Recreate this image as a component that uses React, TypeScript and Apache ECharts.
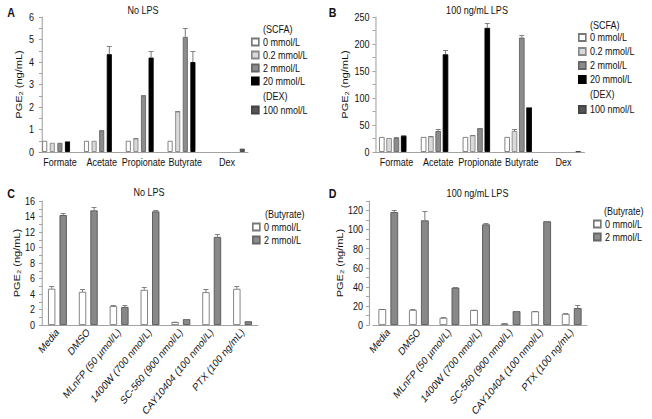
import { useEffect, useRef } from 'react';
import * as echarts from 'echarts';

const FONT = "'Liberation Sans', Arial, sans-serif";
// The reference figure is horizontally condensed; the chart is drawn wider and condensed with CSS.
const S = 0.82;
const X = (v: number) => v / S;

// ---- Panels A & B: SCFA ----
const scfaCategories = ['Formate', 'Acetate', 'Propionate', 'Butyrate', 'Dex'];
const scfaNames = ['0 mmol/L', '0.2 mmol/L', '2 mmol/L', '20 mmol/L'];
const dexName = '100 nmol/L';

// A: No LPS
const noLps0 = [0.5, 0.5, 0.5, 0.5, null];
const noLps02 = [0.41, 0.5, 0.6, 1.8, null];
const noLps2 = [0.41, 0.95, 2.5, 5.12, null];
const noLps20 = [0.47, 4.35, 4.2, 4.0, null];
const noLpsDex = [null, null, null, null, 0.15];
const noLps0Err = [0, 0, 0, 0, null];
const noLps02Err = [0, 0, 0.02, 0.03, null];
const noLps2Err = [0, 0.03, 0.03, 0.4, null];
const noLps20Err = [0.02, 0.38, 0.3, 0.5, null];
const noLpsDexErr = [null, null, null, null, 0];

// B: 100 ng/mL LPS
const lps0 = [28, 28, 28, 28, null];
const lps02 = [26, 29, 31, 39, null];
const lps2 = [26, 39, 44, 212, null];
const lps20 = [30, 181, 230, 83, null];
const lpsDex = [null, null, null, null, 1.5];
const lps0Err = [0, 0, 0, 0, null];
const lps02Err = [0, 1, 1, 4, null];
const lps2Err = [1, 3, 1, 4, null];
const lps20Err = [1, 7, 8, 1, null];
const lpsDexErr = [null, null, null, null, 0];

// ---- Panels C & D: Butyrate with inhibitors ----
const inhibitorCategories = [
  'Media',
  'DMSO',
  'MLnFP (50 µmol/L)',
  '1400W (700 nmol/L)',
  'SC-560 (900 nmol/L)',
  'CAY10404 (100 nmol/L)',
  'PTX (100 ng/mL)',
];
const butyrateNames = ['0 mmol/L', '2 mmol/L'];

// C: No LPS
const cBut0 = [4.7, 4.3, 2.46, 4.55, 0.43, 4.26, 4.69];
const cBut2 = [14.2, 14.8, 2.35, 14.67, 0.78, 11.38, 0.5];
const cBut0Err = [0.3, 0.35, 0.08, 0.35, 0.03, 0.38, 0.33];
const cBut2Err = [0.3, 0.45, 0.3, 0.2, 0.05, 0.35, 0.05];

// D: 100 ng/mL LPS
const dBut0 = [16.9, 16, 7.7, 16, 1.6, 14.5, 11.8];
const dBut2 = [118.4, 109.8, 39.3, 105.6, 14.7, 108.8, 17.9];
const dBut0Err = [0.5, 0.8, 0.5, 0.3, 0.2, 0.6, 0.7];
const dBut2Err = [2, 9.6, 0.6, 1, 0.5, 0.3, 3];

const yName = 'PGE₂ (ng/mL)';

function barSeries(name: string, data: (number | null)[], gi: number, color: string, border: string, bw: number, gap: string) {
  return {
    type: 'bar',
    name,
    xAxisIndex: gi,
    yAxisIndex: gi,
    data: data.map((v) => (v == null ? '-' : v)),
    barWidth: bw,
    barGap: gap,
    itemStyle: { color, borderColor: border, borderWidth: 1 },
    silent: true,
  };
}

function errSeries(values: (number | null)[], errs: (number | null)[], gi: number, slot: number, nSlots: number, bw: number, gapPx: number) {
  const data: number[][] = [];
  values.forEach((v, i) => {
    const e = errs[i];
    if (v != null && e != null && e > 0) data.push([i, v, v + e]);
  });
  return {
    type: 'custom',
    xAxisIndex: gi,
    yAxisIndex: gi,
    silent: true,
    z: 5,
    data,
    renderItem: (_p: any, api: any) => {
      const base = api.coord([api.value(0), api.value(1)]);
      const top = api.coord([api.value(0), api.value(2)]);
      const off = (slot - (nSlots - 1) / 2) * (bw + gapPx);
      const x = base[0] + off;
      const yt = Math.round(top[1]) + 0.5;
      const half = X(2.5);
      return {
        type: 'group',
        children: [
          { type: 'line', shape: { x1: x, y1: base[1], x2: x, y2: yt }, style: { stroke: '#777', lineWidth: 1.2 } },
          { type: 'line', shape: { x1: x - half, y1: yt, x2: x + half, y2: yt }, style: { stroke: '#777', lineWidth: 1 } },
        ],
      };
    },
  };
}

function xAxis(gi: number, data: string[], rotate: number) {
  return {
    type: 'category',
    gridIndex: gi,
    data,
    axisLine: { lineStyle: { color: '#999' } },
    axisTick: { show: false },
    axisLabel: { fontSize: 11, color: '#111', fontFamily: FONT, margin: 5, interval: 0, rotate },
  };
}

function yAxis(gi: number, max: number, interval: number, labelEvery: number, margin: number, nameGap: number, offset: number) {
  return {
    type: 'value',
    gridIndex: gi,
    min: 0,
    max,
    interval,
    offset: X(offset),
    axisLine: { show: true, lineStyle: { color: '#999', width: 1.2 } },
    axisTick: { show: true, length: X(3), lineStyle: { color: '#999', width: 1 } },
    splitLine: { show: false },
    axisLabel: {
      fontSize: 11,
      color: '#111',
      fontFamily: FONT,
      margin: X(margin),
      formatter: (v: number) => (Math.abs(v / labelEvery - Math.round(v / labelEvery)) < 1e-6 ? String(v) : ''),
    },
    name: yName,
    nameLocation: 'middle',
    nameGap: X(nameGap),
    nameTextStyle: { fontSize: 11, color: '#111', fontFamily: FONT },
  };
}

const legendCommon = {
  orient: 'vertical',
  padding: 0,
  itemWidth: X(7),
  itemHeight: 7,
  icon: 'rect',
  selectedMode: false,
  textStyle: { fontSize: 11, lineHeight: 11, color: '#111', fontFamily: FONT },
};

function txt(text: string, x: number, y: number, align: string, extra: any = {}) {
  return {
    type: 'text',
    x: X(x),
    y,
    silent: true,
    style: { text, fontSize: 11, fontFamily: FONT, fill: '#111', align, verticalAlign: 'middle', ...extra },
  };
}

function buildOption() {
  const abBW = [X(5), X(5.5)];
  const abGapPx = [X(2.6), X(1.8)];
  const scfaColors = [
    ['#ffffff', '#777777'],
    ['#d9d9d9', '#888888'],
    ['#8c8c8c', '#666666'],
    ['#000000', '#000000'],
  ];
  const dexColor = ['#555555', '#444444'];
  const series: any[] = [];

  const abSets = [
    { vals: [noLps0, noLps02, noLps2, noLps20], dex: noLpsDex, errs: [noLps0Err, noLps02Err, noLps2Err, noLps20Err], dexErr: noLpsDexErr },
    { vals: [lps0, lps02, lps2, lps20], dex: lpsDex, errs: [lps0Err, lps02Err, lps2Err, lps20Err], dexErr: lpsDexErr },
  ];
  abSets.forEach((set, gi) => {
    const bw = abBW[gi];
    const gapPx = abGapPx[gi];
    const gapPct = ((gapPx / bw) * 100).toFixed(1) + '%';
    set.vals.forEach((vals, si) => {
      series.push(barSeries(scfaNames[si], vals, gi, scfaColors[si][0], scfaColors[si][1], bw, gapPct));
    });
    series.push(barSeries(dexName, set.dex, gi, dexColor[0], dexColor[1], bw, gapPct));
    set.vals.forEach((vals, si) => {
      series.push(errSeries(vals, set.errs[si], gi, si, 5, bw, gapPx));
    });
    series.push(errSeries(set.dex, set.dexErr, gi, 4, 5, bw, gapPx));
  });

  const cdBW = [X(7.3), X(7.7)];
  const cdGapPx = [X(4.2), X(4.3)];
  const butColors = [
    ['#ffffff', '#777777'],
    ['#888888', '#555555'],
  ];
  const cdSets = [
    { vals: [cBut0, cBut2], errs: [cBut0Err, cBut2Err] },
    { vals: [dBut0, dBut2], errs: [dBut0Err, dBut2Err] },
  ];
  cdSets.forEach((set, k) => {
    const gi = k + 2;
    const bw = cdBW[k];
    const gapPx = cdGapPx[k];
    const gapPct = ((gapPx / bw) * 100).toFixed(1) + '%';
    set.vals.forEach((vals, si) => {
      series.push(barSeries(butyrateNames[si], vals, gi, butColors[si][0], butColors[si][1], bw, gapPct));
    });
    set.vals.forEach((vals, si) => {
      series.push(errSeries(vals, set.errs[si], gi, si, 2, bw, gapPx));
    });
  });

  const bold = { fontSize: 13, fontWeight: 'bold', fontFamily: "'Liberation Sans', Arial, sans-serif" };

  return {
    animation: false,
    backgroundColor: '#ffffff',
    textStyle: { fontFamily: FONT },
    grid: [
      { left: X(39), top: 17, width: X(209), height: 135 },
      { left: X(375.5), top: 17, width: X(209), height: 135 },
      { left: X(42), top: 201, width: X(216), height: 135 },
      { left: X(373), top: 201, width: X(214), height: 135 },
    ],
    xAxis: [
      xAxis(0, scfaCategories, 0),
      xAxis(1, scfaCategories, 0),
      xAxis(2, inhibitorCategories, 45),
      xAxis(3, inhibitorCategories, 45),
    ],
    yAxis: [
      yAxis(0, 6, 0.5, 1, 8, 19, -3),
      yAxis(1, 250, 25, 50, 6, 26, 0),
      yAxis(2, 16, 1, 2, 7, 19, 0),
      yAxis(3, 130, 10, 20, 6, 20, 4),
    ],
    legend: [
      { ...legendCommon, data: scfaNames, left: X(251), top: 36.5, itemGap: 2 },
      { ...legendCommon, data: [dexName], left: X(251), top: 104.5 },
      { ...legendCommon, data: scfaNames, left: X(578), top: 32, itemGap: 3 },
      { ...legendCommon, data: [dexName], left: X(578), top: 104 },
      { ...legendCommon, data: butyrateNames, left: X(252), top: 221.5, itemGap: 2 },
      { ...legendCommon, data: butyrateNames, left: X(593), top: 218.5, itemGap: 2 },
    ],
    graphic: [
      txt('A', 11, 13, 'center', bold),
      txt('B', 332.5, 13, 'center', bold),
      txt('C', 11, 194, 'center', bold),
      txt('D', 332.5, 194, 'center', bold),
      txt('No LPS', 143, 10, 'center'),
      txt('100 ng/mL LPS', 477, 10.5, 'center'),
      txt('No LPS', 149, 192, 'center'),
      txt('100 ng/mL LPS', 477.5, 193, 'center'),
      txt('(SCFA)', 263, 29.5, 'left'),
      txt('(DEX)', 263, 96.5, 'left'),
      txt('(SCFA)', 590, 25, 'left'),
      txt('(DEX)', 590, 94.5, 'left'),
      txt('(Butyrate)', 265, 214, 'left'),
      txt('(Butyrate)', 604, 211, 'left'),
    ],
    series,
  };
}

export default function App() {
  const ref = useRef<HTMLDivElement>(null);
  useEffect(() => {
    if (!ref.current) return;
    const chart = echarts.init(ref.current, null, { renderer: 'svg' });
    chart.setOption(buildOption() as any);
    return () => chart.dispose();
  }, []);
  return (
    <div style={{ position: 'fixed', left: 0, top: 0, width: 652, height: 419, overflow: 'hidden', background: '#fff' }}>
      <div
        ref={ref}
        style={{ width: X(652), height: 419, transform: `scaleX(${S})`, transformOrigin: '0 0' }}
      />
    </div>
  );
}
